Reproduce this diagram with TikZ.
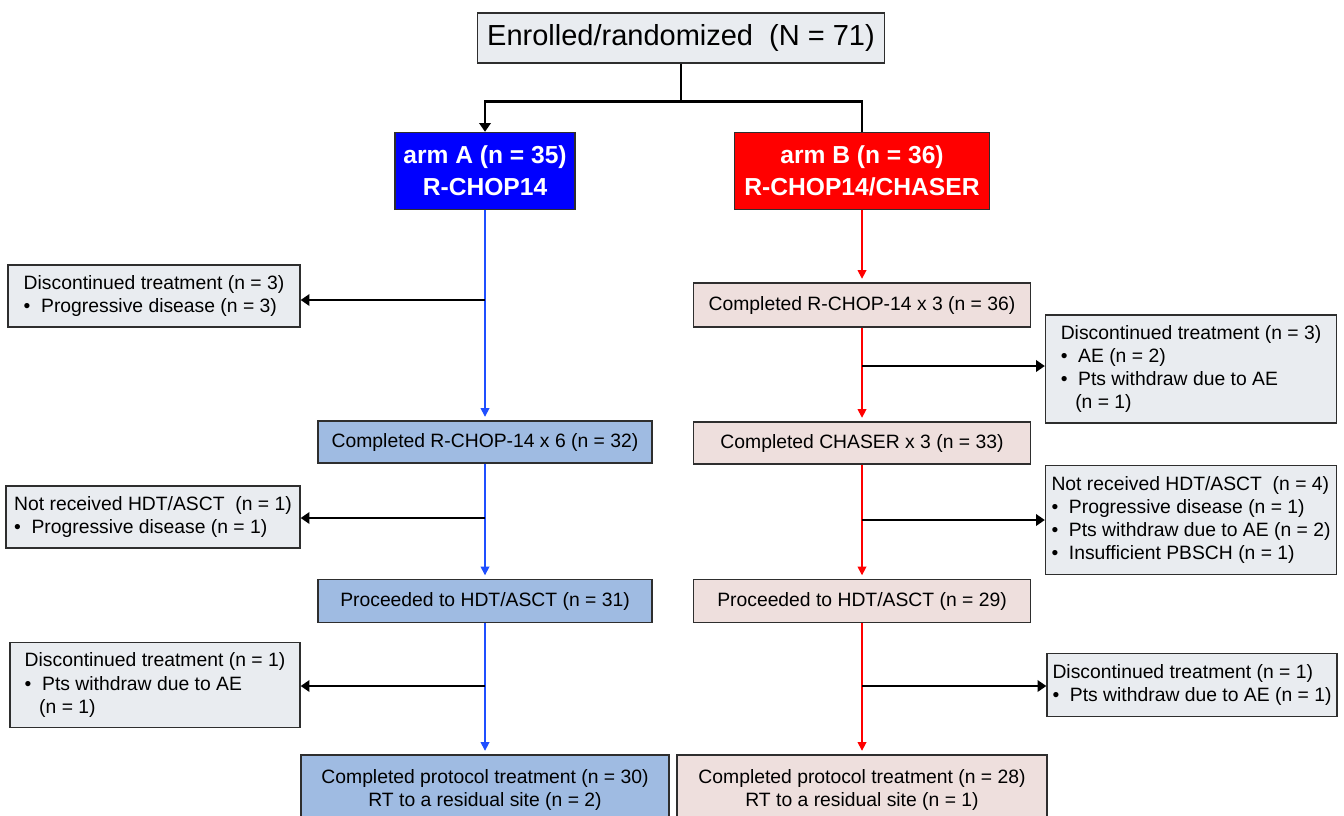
\documentclass[tikz,border=0pt]{standalone}
\usepackage{fontspec}
\setmainfont{Liberation Sans}
\usetikzlibrary{arrows.meta}
\definecolor{flowedge}{HTML}{2E2E2E}
\definecolor{flowgrey}{HTML}{E9ECF0}
\definecolor{flowblue}{HTML}{0000FF}
\definecolor{flowred}{HTML}{FF0000}
\definecolor{flowline}{HTML}{1F4FFF}
\definecolor{flowsteel}{HTML}{9FBBE2}
\definecolor{flowpink}{HTML}{EEDFDD}
\newcommand{\flowbul}{\textbullet\hspace{0.55em}}
\newcommand{\flowcont}{\hspace*{0.75em}}
\tikzset{
  flowbox/.style={draw=flowedge, line width=0.8pt, inner xsep=3pt, inner ysep=2pt,
    align=center, font=\fontsize{11}{13.5}\selectfont},
  notebox/.style={flowbox, fill=flowgrey, align=left, font=\fontsize{11}{13.2}\selectfont},
  armbox/.style={flowbox, text=white, font=\fontsize{14}{18}\selectfont\bfseries},
  bluelink/.style={flowline, line width=0.9pt, shorten >=2pt,
    -{Triangle[length=5pt, width=5pt]}},
  redlink/.style={bluelink, flowred},
  sidelink/.style={black, line width=1.5pt, -{Triangle[length=5pt, width=6.5pt]}},
  forklink/.style={black, line width=1.5pt}
}
\begin{document}
\begin{tikzpicture}[x=0.02cm, y=-0.02cm]
  \useasboundingbox (0,0) rectangle (1344,815);
  \clip (0,0) rectangle (1344,815);
  \node[flowbox, fill=flowgrey, minimum width=8.14cm, minimum height=1.0cm,
    font=\fontsize{16.5}{20}\selectfont] (top) at (681,38) {Enrolled/randomized\ \ (N = 71)};
  \node[armbox, fill=flowblue, minimum width=3.6cm, minimum height=1.54cm] (armA) at (485,171)
    {arm A (n = 35)\\R-CHOP14};
  \node[armbox, fill=flowred, minimum width=5.1cm, minimum height=1.54cm] (armB) at (862,171)
    {arm B (n = 36)\\R-CHOP14/CHASER};

  \node[flowbox, fill=flowsteel, minimum width=6.68cm, minimum height=0.84cm] (a1) at (485,442)
    {Completed R-CHOP-14 x 6 (n = 32)};
  \node[flowbox, fill=flowsteel, minimum width=6.68cm, minimum height=0.86cm] (a2) at (485,601)
    {Proceeded to HDT/ASCT (n = 31)};
  \node[flowbox, fill=flowsteel, minimum width=7.36cm, minimum height=1.4cm] (a3) at (485,790)
    {Completed protocol treatment (n = 30)\\RT to a residual site (n = 2)};

  \node[flowbox, fill=flowpink, minimum width=6.74cm, minimum height=0.88cm] (b1) at (862,305)
    {Completed R-CHOP-14 x 3 (n = 36)};
  \node[flowbox, fill=flowpink, minimum width=6.74cm, minimum height=0.84cm] (b2) at (862,443)
    {Completed CHASER x 3 (n = 33)};
  \node[flowbox, fill=flowpink, minimum width=6.74cm, minimum height=0.86cm] (b3) at (862,601)
    {Proceeded to HDT/ASCT (n = 29)};
  \node[flowbox, fill=flowpink, minimum width=7.4cm, minimum height=1.4cm] (b4) at (862,790)
    {Completed protocol treatment (n = 28)\\RT to a residual site (n = 1)};

  \node[notebox, minimum width=5.84cm, minimum height=1.24cm] (la1) at (154,296)
    {Discontinued treatment (n = 3)\\\flowbul Progressive disease (n = 3)};
  \node[notebox, minimum width=5.88cm, minimum height=1.24cm] (la2) at (153,517)
    {Not received HDT/ASCT\ \ (n = 1)\\\flowbul Progressive disease (n = 1)};
  \node[notebox, minimum width=5.8cm, minimum height=1.7cm] (la3) at (155,685)
    {Discontinued treatment (n = 1)\\\flowbul Pts withdraw due to AE\\\flowcont(n = 1)};
  \node[notebox, minimum width=5.82cm, minimum height=2.16cm] (rb1) at (1191,369)
    {Discontinued treatment (n = 3)\\\flowbul AE (n = 2)\\\flowbul Pts withdraw due to AE\\\flowcont(n = 1)};
  \node[notebox, minimum width=5.82cm, minimum height=2.18cm] (rb2) at (1191,520)
    {Not received HDT/ASCT\ \ (n = 4)\\\flowbul Progressive disease (n = 1)\\
     \flowbul Pts withdraw due to AE (n = 2)\\\flowbul Insufficient PBSCH (n = 1)};
  \node[notebox, minimum width=5.8cm, minimum height=1.26cm] (rb3) at (1192,685)
    {Discontinued treatment (n = 1)\\\flowbul Pts withdraw due to AE (n = 1)};

  \draw[forklink, -{Triangle[length=5pt, width=6.5pt]}] (top.south) -- ++(0,38) -| (armA.north);
  \draw[forklink] (top.south) -- ++(0,38) -| (armB.north);

  \foreach \u/\v in {armA/a1, a1/a2, a2/a3}
    \draw[bluelink] (\u.south) -- (\v.north);
  \foreach \u/\v in {armB/b1, b1/b2, b2/b3, b3/b4}
    \draw[redlink] (\u.south) -- (\v.north);

  \coordinate (ja1) at (485,300);
  \coordinate (ja2) at (485,518);
  \coordinate (ja3) at (485,686);
  \coordinate (jb1) at (862,366);
  \coordinate (jb2) at (862,520);
  \coordinate (jb3) at (862,686);
  \foreach \j/\t in {ja1/la1, ja2/la2, ja3/la3}
    \draw[sidelink] (\j) -- (\j -| \t.east);
  \foreach \j/\t in {jb1/rb1, jb2/rb2, jb3/rb3}
    \draw[sidelink] (\j) -- (\j -| \t.west);
\end{tikzpicture}
\end{document}
